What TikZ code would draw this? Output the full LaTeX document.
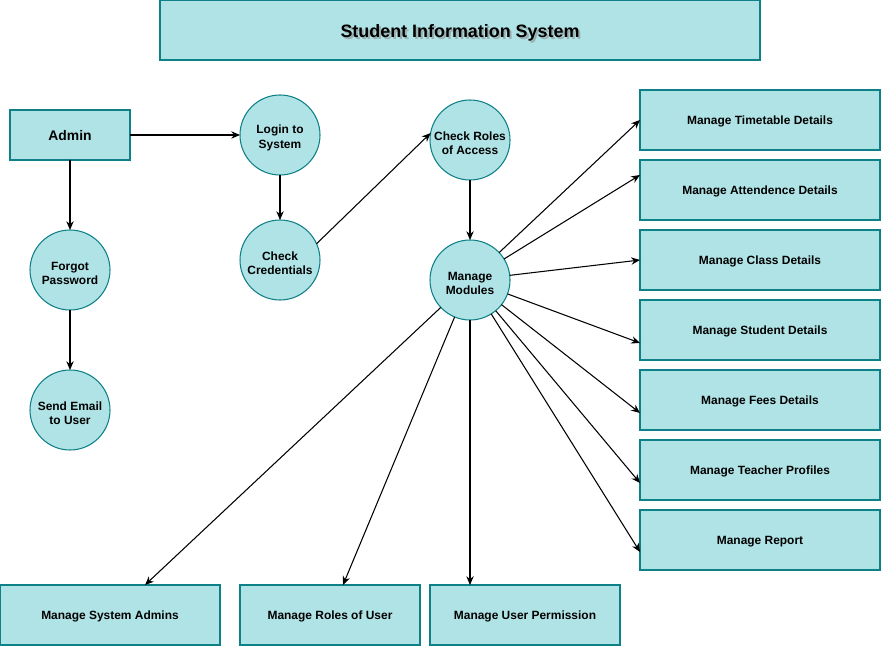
\documentclass[tikz,border=0pt]{standalone}
\usepackage{fontspec}
\setmainfont{Liberation Sans}
\usepackage{tikz}
\usetikzlibrary{shapes,arrows.meta,positioning,calc}

\definecolor{boxfill}{HTML}{B0E3E6}
\definecolor{boxline}{HTML}{0E8088}

\begin{document}
\begin{tikzpicture}[>={Stealth[length=5pt,width=4.2pt]},
   every node/.style={font=\fontsize{6.8}{8.2}\selectfont\bfseries,align=center,
      execute at begin node={\rule{0pt}{1.0em}}},
   box/.style={draw=boxline,fill=boxfill,line width=0.6pt,rectangle,outer sep=0pt,minimum height=1.2cm,minimum width=4.8cm},
   proc/.style={draw=boxline,fill=boxfill,line width=0.6pt,circle,outer sep=0pt,inner sep=0pt,minimum size=1.6cm,
      execute at begin node={\rule{0pt}{2.45em}}},
   link/.style={->,line width=0.6pt}]
 \useasboundingbox (0,0) rectangle (17.62,-13.08);
 % title bar (text with a soft shadow)
 \node[box,minimum width=12cm] (title) at (9.2,-0.6) {};
 \node[font=\fontsize{10.2}{12}\selectfont\bfseries,text=black!45,opacity=0.6] (tshadow) at (9.24,-0.65) {Student Information System};
 \node[font=\fontsize{10.2}{12}\selectfont\bfseries] (ttext) at (9.2,-0.6) {Student Information System};
 % left side: admin and processes
 \node[box,minimum width=2.4cm,minimum height=1cm] (admin) at (1.4,-2.7) {\fontsize{7.9}{9}\selectfont Admin};
 \node[proc] (login)  at (5.6,-2.7) {Login to\\System};
 \node[proc] (cred)   at (5.6,-5.2) {Check\\Credentials};
 \node[proc] (forgot) at (1.4,-5.4) {Forgot\\Password};
 \node[proc] (email)  at (1.4,-8.2) {Send Email\\to User};
 \node[proc] (roles)  at (9.4,-2.8) {Check Roles\\of Access};
 \node[proc] (modules) at (9.4,-5.6) {Manage\\Modules};
 % right column of modules
 \node[box] (timetable) at (15.2,-2.4)  {Manage Timetable Details};
 \node[box] (attend)    at (15.2,-3.8)  {Manage Attendence Details};
 \node[box] (class)     at (15.2,-5.2)  {Manage Class Details};
 \node[box] (student)   at (15.2,-6.6)  {Manage Student Details};
 \node[box] (fees)      at (15.2,-8.0)  {Manage Fees Details};
 \node[box] (teacher)   at (15.2,-9.4)  {Manage Teacher Profiles};
 \node[box] (report)    at (15.2,-10.8) {Manage Report};
 % bottom row of modules
 \node[box,minimum width=4.4cm] (sysadmin) at (2.2,-12.3)  {Manage System Admins};
 \node[box,minimum width=3.6cm] (userrole) at (6.6,-12.3)  {Manage Roles of User};
 \node[box,minimum width=3.8cm] (userperm) at (10.5,-12.3) {Manage User Permission};
 % login flow
 \draw[link] (admin) -- (login);
 \draw[link] (admin) -- (forgot);
 \draw[link] (forgot) -- (email);
 \draw[link] (login) -- (cred);
 \draw[link] (cred.24) -- (roles.170);
 \draw[link] (roles) -- (modules);
 % module fan-out
 \draw[link] (modules) -- (timetable.west);
 \draw[link] (modules) -- ([yshift=0.3cm]attend.west);
 \draw[link] (modules) -- (class.west);
 \draw[link] (modules) -- ([yshift=-0.26cm]student.west);
 \draw[link] (modules) -- ([yshift=-0.26cm]fees.west);
 \draw[link] (modules) -- ([yshift=-0.26cm]teacher.west);
 \draw[link] (modules) -- ([yshift=-0.24cm]report.west);
 \draw[link] (modules) -- ([xshift=0.7cm]sysadmin.north);
 \draw[link] (modules) -- ([xshift=0.26cm]userrole.north);
 \draw[link] (modules.south) -- (modules.south |- userperm.north);
\end{tikzpicture}
\end{document}
